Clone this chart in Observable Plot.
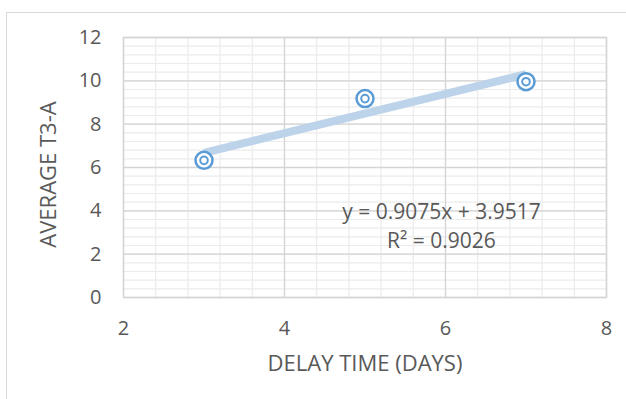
<!DOCTYPE html>
<html>
<head>
<meta charset="utf-8">
<script src="https://cdn.jsdelivr.net/npm/d3@7"></script>
<script src="https://cdn.jsdelivr.net/npm/@observablehq/plot@0.6"></script>
<style>
  html, body { margin: 0; padding: 0; background: #fff; }
  #wrap { position: relative; width: 626px; height: 399px; overflow: hidden; }
  #border { position: absolute; left: 6px; top: 12px; width: 640px; height: 400px; border: 1.5px solid #d9d9d9; box-sizing: border-box; }
  #chart { position: absolute; left: 0; top: 0; }
</style>
</head>
<body>
<div id="wrap"><div id="border"></div><div id="chart"></div></div>
<script>
// Data
const delayDays = [3, 5, 7];
const avgT3A = [6.33, 9.18, 9.96];
const xTicks = [2, 4, 6, 8];
const yTicks = [0, 2, 4, 6, 8, 10, 12];
const slope = 0.9075;
const intercept = 3.9517;
const r2 = 0.9026;
const xLabel = "DELAY TIME (DAYS)";
const yLabel = "AVERAGE T3-A";

const points = delayDays.map((d, i) => ({x: d, y: avgT3A[i]}));
const xMin = d3.min(delayDays), xMax = d3.max(delayDays);
const trend = [xMin, xMax].map(x => ({x, y: slope * x + intercept}));
const xMinor = d3.range(2, 8.0001, 0.4);
const yMinor = d3.range(0, 12.0001, 0.4);

const blue = "#5b9bd5";
const textColor = "#595959";
const font = "'Open Sans', sans-serif";
const fs = 20;

const chart = Plot.plot({
  width: 626,
  height: 399,
  marginLeft: 123,
  marginRight: 20,
  marginTop: 37,
  marginBottom: 102,
  style: {fontFamily: font, fontSize: fs + "px", color: textColor, background: "transparent"},
  x: {domain: [2, 8], label: null},
  y: {domain: [0, 12], label: null},
  marks: [
    Plot.ruleX(xMinor, {stroke: "#ebebeb", strokeWidth: 1.2}),
    Plot.ruleY(yMinor, {stroke: "#ebebeb", strokeWidth: 1.2}),
    Plot.ruleX(xTicks, {stroke: "#d4d4d4", strokeWidth: 1.3}),
    Plot.ruleY(yTicks, {stroke: "#d4d4d4", strokeWidth: 1.3}),
    Plot.frame({stroke: "#d4d4d4", strokeWidth: 1.3}),
    Plot.axisX({ticks: xTicks, tickFormat: d3.format("d"), tickSize: 0, tickPadding: 23, fill: textColor, fontSize: fs, label: null}),
    Plot.axisY({ticks: yTicks, tickFormat: d3.format("d"), tickSize: 0, tickPadding: 22, fill: textColor, fontSize: fs, label: null}),
    Plot.line(trend, {x: "x", y: "y", stroke: "#bcd3ea", strokeWidth: 8, strokeLinecap: "butt"}),
    Plot.dot(points, {x: "x", y: "y", r: 8.5, stroke: blue, strokeWidth: 2.5, fill: "white"}),
    Plot.dot(points, {x: "x", y: "y", r: 3.8, stroke: blue, strokeWidth: 2, fill: "white"}),
    Plot.text([`y = ${slope}x + ${intercept}`], {x: 5.95, y: 3.95, text: d => d, fill: textColor, fontSize: 21}),
    Plot.text([`R² = ${r2}`], {x: 5.95, y: 2.6, text: d => d, fill: textColor, fontSize: 21}),
    Plot.text([xLabel], {frameAnchor: "bottom", dy: 73, text: d => d, fill: textColor, fontSize: 22}),
    Plot.text([yLabel], {frameAnchor: "left", textAnchor: "middle", dx: -75, dy: 7, rotate: -90, text: d => d, fill: textColor, fontSize: 22})
  ]
});
document.getElementById("chart").appendChild(chart);
</script>
</body>
</html>
